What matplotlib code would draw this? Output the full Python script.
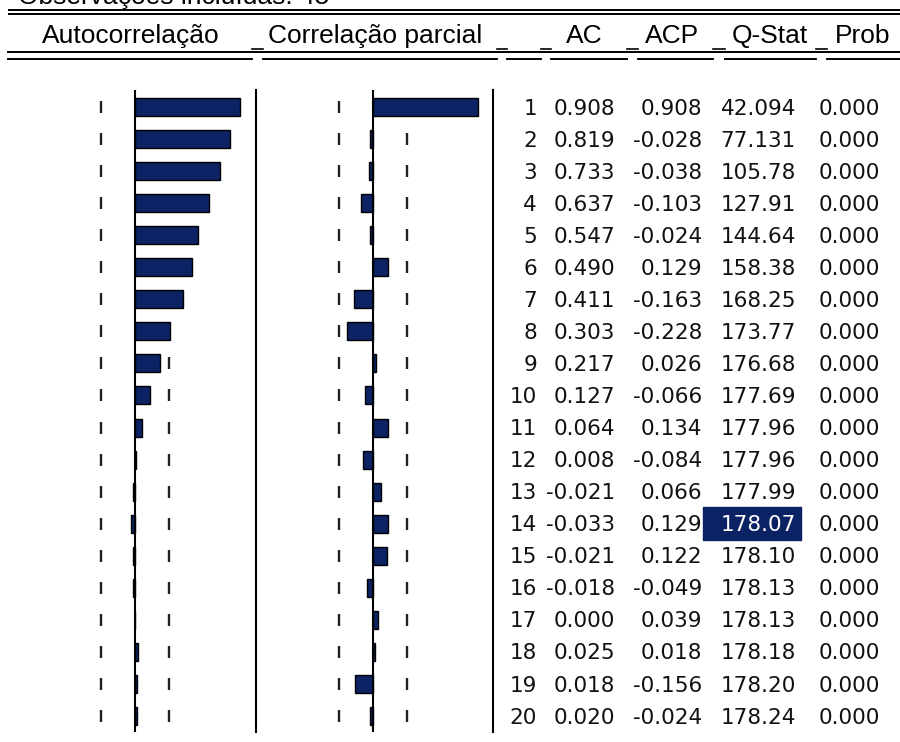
import numpy as np
import matplotlib
matplotlib.use("Agg")
import matplotlib.pyplot as plt
from matplotlib.patches import Rectangle

# correlogram values, lags 1..20
lags = np.arange(1, 21)
ac = [0.908, 0.819, 0.733, 0.637, 0.547, 0.490, 0.411, 0.303, 0.217, 0.127,
      0.064, 0.008, -0.021, -0.033, -0.021, -0.018, 0.000, 0.025, 0.018, 0.020]
pac = [0.908, -0.028, -0.038, -0.103, -0.024, 0.129, -0.163, -0.228, 0.026, -0.066,
       0.134, -0.084, 0.066, 0.129, 0.122, -0.049, 0.039, 0.018, -0.156, -0.024]
qstat = [42.094, 77.131, 105.78, 127.91, 144.64, 158.38, 168.25, 173.77, 176.68, 177.69,
         177.96, 177.96, 177.99, 178.07, 178.10, 178.13, 178.13, 178.18, 178.20, 178.24]
prob = [0.0] * 20
band = 0.298  # 2/sqrt(n), n = 45
n_obs = 45
headers = ["Autocorrelação", "Correlação parcial", "AC", "ACP", "Q-Stat", "Prob"]
selected_row = 14  # highlighted Q-Stat cell

W, H = 900, 742
navy = "#0b2265"
fig = plt.figure(figsize=(W / 100, H / 100), dpi=100)
fig.patch.set_facecolor("white")

# pixel-space overlay for the text table and rules
base = fig.add_axes([0, 0, 1, 1])
base.set_xlim(0, W)
base.set_ylim(H, 0)
base.axis("off")

top, bottom = 90, 732
row0, drow = 107, 32.05
px_per_unit = 115.6


def row_y(k):
    return row0 + (k - 1) * drow


def panel(x0, x1, xzero, vals):
    ax = fig.add_axes([x0 / W, (H - bottom) / H, (x1 - x0) / W, (bottom - top) / H])
    ax.set_xlim((x0 - xzero) / px_per_unit, (x1 - xzero) / px_per_unit)
    ax.set_ylim(20 + (bottom - row_y(20)) / drow, 1 - (row_y(1) - top) / drow)
    ax.axis("off")
    ax.patch.set_alpha(0)
    dash_h = 6 / drow
    ax.vlines([-band] * 20, lags - dash_h, lags + dash_h, color="#222222", lw=1.7)
    ax.vlines([band] * 20, lags - dash_h, lags + dash_h, color="#222222", lw=1.7)
    ax.barh(lags, vals, height=18 / drow, color=navy, edgecolor="black", lw=1.0, zorder=3)
    ax.axvline(0, color="black", lw=1.5, zorder=4)
    return ax


panel(0, 256, 135, ac)
panel(256, 493, 373, pac)

# panel separators
for x in (256, 493):
    base.plot([x, x], [top, bottom], color="black", lw=1.5)

# title (cropped at the top edge) and header rules
base.text(18, 4, f"Observações incluídas: {n_obs}", fontsize=19,
          family="Liberation Sans", va="baseline", ha="left")
for y in (10, 13.5):
    base.plot([9, W], [y, y], color="black", lw=1.4)
for y in (52, 58.5):
    base.plot([8, W], [y, y], color="black", lw=1.4)

head_x = [131, 375, 584, 672, 770, 863]
for x, t in zip(head_x, headers):
    base.text(x, 43, t, fontsize=19, family="Liberation Sans", ha="center", va="baseline")
for x0, x1 in [(252, 263), (497, 507), (541, 551), (627, 638), (713, 725), (816, 827)]:
    base.plot([x0, x1], [48.5, 48.5], color="black", lw=1.2)
    base.plot([x0 + 2, x1 - 2], [58.5, 58.5], color="white", lw=1.6)

# numeric table
def qfmt(q):
    return f"{q:.{5 - len(str(int(q)))}f}"


col_right = [537, 615, 702, 796, 880]
tfont = dict(fontsize=15.5, family="DejaVu Sans", ha="right", va="baseline", color="#111111")
for i, k in enumerate(lags):
    y = row_y(k) + 7.6
    cells = [str(k), f"{ac[i]:.3f}", f"{pac[i]:.3f}", qfmt(qstat[i]), f"{prob[i]:.3f}"]
    for j, (x, s) in enumerate(zip(col_right, cells)):
        color = tfont["color"]
        if k == selected_row and j == 3:
            base.add_patch(Rectangle((703, row_y(k) - 16.5), 98, 33, color=navy, zorder=0))
            color = "white"
        base.text(x, y, s, **{**tfont, "color": color})

fig.savefig("out.png", dpi=100)
